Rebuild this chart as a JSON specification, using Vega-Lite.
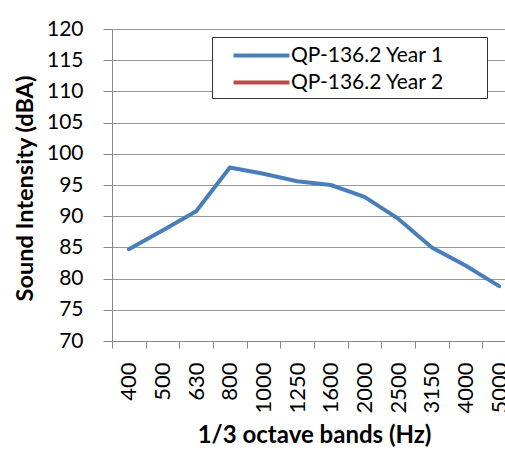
{
  "$schema": "https://vega.github.io/schema/vega-lite/v6.json",
  "autosize": {"type": "none"},
  "width": 393,
  "height": 312,
  "padding": {"left": 112, "top": 29, "right": 0, "bottom": 113},
  "background": "white",
  "config": {
    "font": "Lato",
    "view": {"stroke": null}
  },
  "data": {
    "values": [
      {"band": "400", "series": "QP-136.2 Year 1", "dBA": 84.7},
      {"band": "500", "series": "QP-136.2 Year 1", "dBA": 87.7},
      {"band": "630", "series": "QP-136.2 Year 1", "dBA": 90.8},
      {"band": "800", "series": "QP-136.2 Year 1", "dBA": 97.8},
      {"band": "1000", "series": "QP-136.2 Year 1", "dBA": 96.8},
      {"band": "1250", "series": "QP-136.2 Year 1", "dBA": 95.6},
      {"band": "1600", "series": "QP-136.2 Year 1", "dBA": 95.0},
      {"band": "2000", "series": "QP-136.2 Year 1", "dBA": 93.1},
      {"band": "2500", "series": "QP-136.2 Year 1", "dBA": 89.6},
      {"band": "3150", "series": "QP-136.2 Year 1", "dBA": 85.0},
      {"band": "4000", "series": "QP-136.2 Year 1", "dBA": 82.1},
      {"band": "5000", "series": "QP-136.2 Year 1", "dBA": 78.8}
    ]
  },
  "mark": {"type": "line", "strokeWidth": 4, "strokeCap": "round", "strokeJoin": "round"},
  "encoding": {
    "x": {
      "field": "band",
      "type": "ordinal",
      "sort": null,
      "scale": {"type": "band", "range": [0, 404], "paddingInner": 0, "paddingOuter": 0},
      "axis": {
        "title": "1/3 octave bands (Hz)",
        "titleFontSize": 24,
        "titleFontWeight": "bold",
        "titleColor": "#000",
        "titlePadding": 10,
        "labelAngle": -90,
        "labelFontSize": 22,
        "labelColor": "#000",
        "labelPadding": 14,
        "tickBand": "extent",
        "tickSize": 7,
        "tickColor": "#888",
        "domainColor": "#888",
        "grid": false
      }
    },
    "y": {
      "field": "dBA",
      "type": "quantitative",
      "scale": {"domain": [70, 120], "nice": false, "zero": false},
      "axis": {
        "title": "Sound Intensity (dBA)",
        "titleFontSize": 23.5,
        "titleFontWeight": "bold",
        "titleColor": "#000",
        "titlePadding": 9,
        "titleY": 159,
        "values": [70, 75, 80, 85, 90, 95, 100, 105, 110, 115, 120],
        "labelFontSize": 21,
        "labelColor": "#000",
        "labelPadding": 20,
        "tickSize": 9,
        "tickColor": "#888",
        "domainColor": "#888",
        "grid": true,
        "gridColor": "#999",
        "gridWidth": 1
      }
    },
    "color": {
      "field": "series",
      "type": "nominal",
      "scale": {"domain": ["QP-136.2 Year 1", "QP-136.2 Year 2"], "range": ["#4a7ebb", "#be4b48"]},
      "legend": {
        "title": null,
        "orient": "none",
        "legendX": 100,
        "legendY": 8,
        "fillColor": "white",
        "strokeColor": "#333",
        "padding": 5,
        "symbolType": "M-2.5,0H2.5",
        "symbolStrokeWidth": 4,
        "symbolSize": 500,
        "symbolOffset": 31,
        "labelFontSize": 21,
        "labelLimit": 300,
        "labelColor": "#000",
        "labelOffset": 16,
        "rowPadding": 3,
        "labelExpr": "datum.label + '       \u200b'"
      }
    }
  }
}
